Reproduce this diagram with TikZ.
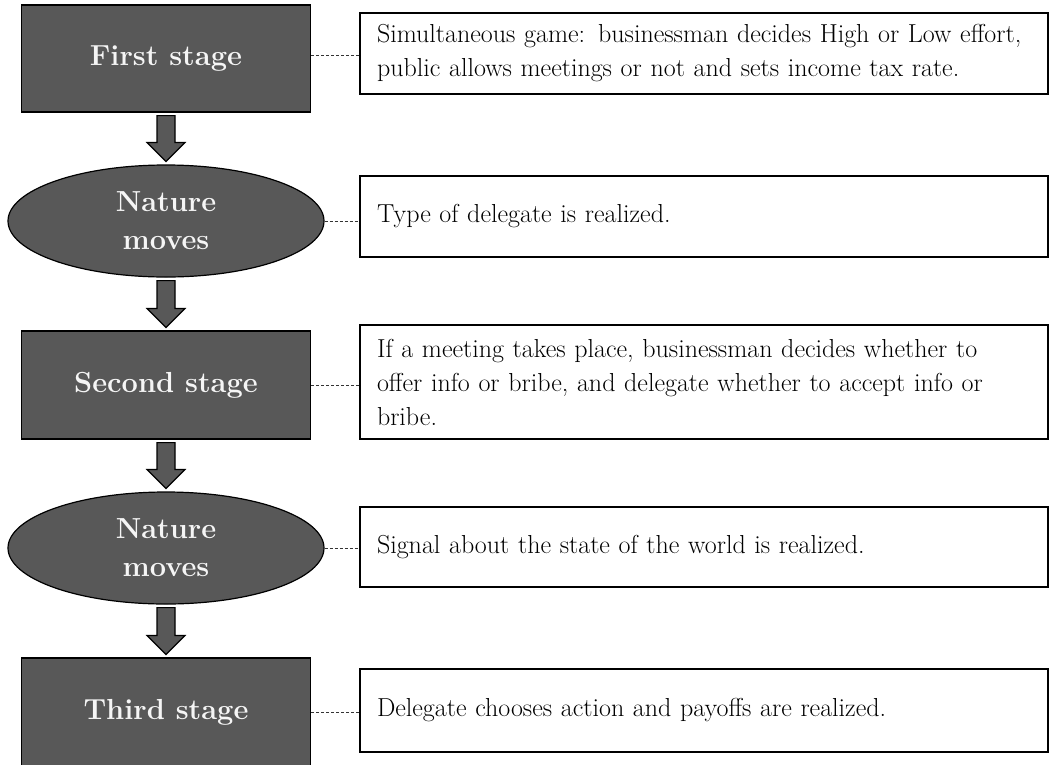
\documentclass[tikz,border=0pt]{standalone}
\usetikzlibrary{shapes.geometric,calc}
\definecolor{stagefill}{RGB}{88,88,88}
\definecolor{stagetext}{RGB}{245,245,245}
\tikzset{
  stagebox/.style={rectangle, draw=black, line width=1.2pt, fill=stagefill,
    minimum width=289pt, minimum height=107pt, inner sep=0pt,
    text=stagetext, font=\fontsize{29}{38}\selectfont\bfseries, align=center},
  naturebox/.style={ellipse, draw=black, line width=1.2pt, fill=stagefill,
    minimum width=316pt, minimum height=112pt, inner sep=0pt,
    text=stagetext, font=\fontsize{29}{38}\selectfont\bfseries, align=center},
  descbox/.style={rectangle, draw=black, line width=1.5pt, fill=white,
    text width=654pt, inner xsep=17pt, inner ysep=0pt, align=left,
    font=\fontsize{26}{34}\selectfont},
  leader/.style={draw=black!80, line width=0.8pt, dash pattern=on 3pt off 2pt},
  blockarrow/.style={draw=black, line width=1.2pt, fill=stagefill, line join=miter}
}
\newcommand\blockarr[2]{%
  \draw[blockarrow] ($(#1.south)+(-9,3)$) -- ($(#1.south)+(9,3)$)
    -- ($(#2.north)+(9,-22)$) -- ($(#2.north)+(19,-22)$)
    -- ($(#2.north)+(0,-3)$) -- ($(#2.north)+(-19,-22)$)
    -- ($(#2.north)+(-9,-22)$) -- cycle;}
\begin{document}
\begin{tikzpicture}[x=1pt,y=-1pt]
\useasboundingbox (0,0) rectangle (1050,764);
\clip (0,0) rectangle (1050,764);
\fill[white] (0,0) rectangle (1050,764);
% left column
\node[stagebox] (s1) at (166,58.5) {First stage};
\node[naturebox] (n1) at (166,221) {Nature\\moves};
\node[stagebox, minimum height=108pt] (s2) at (166,385) {Second stage};
\node[naturebox] (n2) at (166,548) {Nature\\moves};
\node[stagebox, minimum height=108pt] (s3) at (166,712) {Third stage};
% arrows
\blockarr{s1}{n1}
\blockarr{n1}{s2}
\blockarr{s2}{n2}
\blockarr{n2}{s3}
% description boxes
\node[descbox, minimum height=81pt] (b1) at (704,53.5)
  {\mbox{Simultaneous game: businessman decides High or Low effort,}\\\mbox{public allows meetings or not and sets income tax rate.}};
\node[descbox, minimum height=81pt] (b2) at (704,216.5)
  {\mbox{Type of delegate is realized.}};
\node[descbox, minimum height=114pt] (b3) at (704,382)
  {\mbox{If a meeting takes place, businessman decides whether to}\\\mbox{offer info or bribe, and delegate whether to accept info or}\\\mbox{bribe.}};
\node[descbox, minimum height=80pt] (b4) at (704,547)
  {\mbox{Signal about the state of the world is realized.}};
\node[descbox, minimum height=83pt] (b5) at (704,710.5)
  {\mbox{Delegate chooses action and payoffs are realized.}};
% leaders
\draw[leader] ([yshift=3]s1.east) -- ([yshift=3]s1.east -| b1.west);
\draw[leader] (n1.east) -- (n1.east -| b2.west);
\draw[leader] (s2.east) -- (s2.east -| b3.west);
\draw[leader] (n2.east) -- (n2.east -| b4.west);
\draw[leader] (s3.east) -- (s3.east -| b5.west);
\end{tikzpicture}
\end{document}
